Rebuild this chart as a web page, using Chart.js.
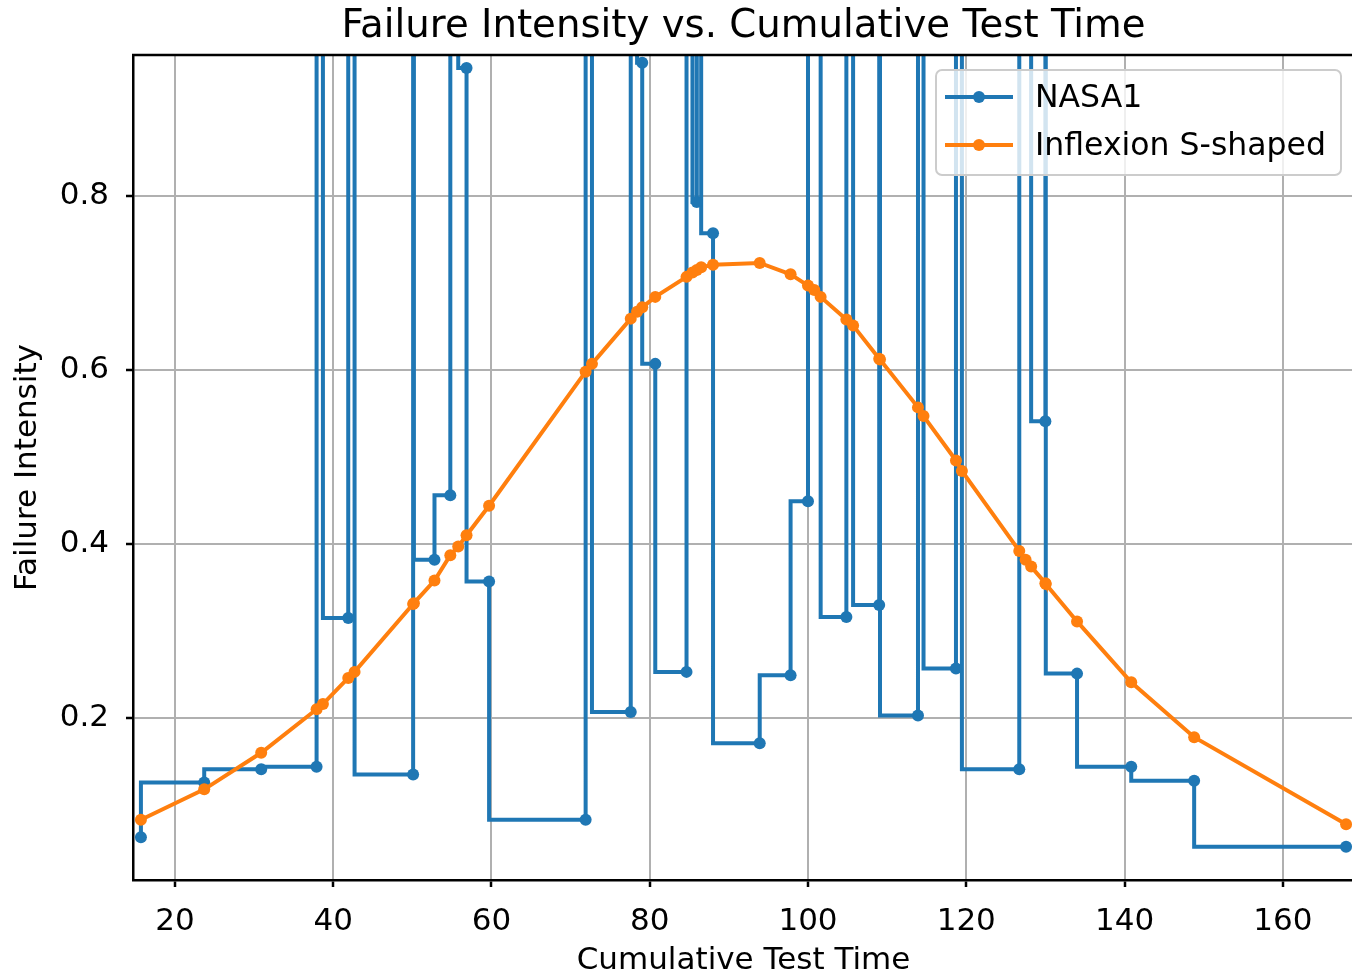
<!DOCTYPE html>
<html>
<head>
<meta charset="utf-8">
<script src="https://cdn.jsdelivr.net/npm/chart.js@4.4.0/dist/chart.umd.min.js"></script>
<style>
  html, body { margin: 0; padding: 0; background: #fff; overflow: hidden; }
  #wrap { width: 1360px; height: 976px; }
</style>
</head>
<body>
<div id="wrap"><canvas id="canvas" width="1360" height="976"></canvas></div>
<script>
// cumulative test time of each failure (x)
var testTime = [15.7, 23.7, 30.9, 37.9, 38.7, 41.9, 42.7, 50.1, 50.2, 52.8,
                54.8, 55.8, 56.85, 59.7, 71.9, 72.7, 77.6, 78.4, 79.05, 80.7,
                84.65, 85.4, 85.95, 86.5, 88.0, 93.9, 97.8, 100.0, 100.8, 101.6,
                104.85, 105.7, 109.0, 109.1, 113.9, 114.6, 118.7, 119.45, 126.7, 127.5,
                128.2, 130.0, 130.05, 134.0, 140.85, 148.8, 168.0];

// observed failure intensity (values above ~0.96 run off the top of the plot)
var nasa1 = [0.063, 0.126, 0.141, 0.144, 1.25, 0.315, 1.25, 0.135, 5.0, 0.382,
             0.456, 1.0, 0.947, 0.357, 0.083, 1.25, 0.207, 1.25, 0.953, 0.607,
             0.253, 1.4, 0.793, 1.5, 0.757, 0.171, 0.249, 0.449, 1.25, 1.25,
             0.316, 1.2, 0.330, 5.0, 0.203, 1.4, 0.257, 1.2, 0.141, 1.25,
             1.4, 0.541, 5.0, 0.251, 0.144, 0.128, 0.052];

// fitted model
var inflexion = [0.083, 0.118, 0.160, 0.210, 0.216, 0.246, 0.253, 0.331, 0.332, 0.358,
                 0.387, 0.397, 0.410, 0.444, 0.598, 0.607, 0.659, 0.667, 0.672, 0.684,
                 0.707, 0.712, 0.715, 0.718, 0.721, 0.723, 0.710, 0.697, 0.692, 0.684,
                 0.658, 0.651, 0.613, 0.612, 0.557, 0.547, 0.496, 0.484, 0.392, 0.382,
                 0.374, 0.355, 0.354, 0.311, 0.241, 0.178, 0.078];

var xTicks = [20, 40, 60, 80, 100, 120, 140, 160];
var yTicks = [0.2, 0.4, 0.6, 0.8];

var seriesNames = ['NASA1', 'Inflexion S-shaped'];
var seriesColors = ['#1f77b4', '#ff7f0e'];
var chartTitle = 'Failure Intensity vs. Cumulative Test Time';

var FONT = '"DejaVu Sans", "Liberation Sans", sans-serif';

function toPoints(ys) {
  return testTime.map(function (t, i) { return { x: t, y: ys[i] }; });
}

// title centred over the axes, top frame line, legend box inside the plot
var frameAndLegend = {
  id: 'frameAndLegend',
  afterDraw: function (chart) {
    var ctx = chart.ctx;
    var a = chart.chartArea;
    ctx.save();

    ctx.fillStyle = '#000';
    ctx.font = '38.7px ' + FONT;
    ctx.textAlign = 'center';
    ctx.textBaseline = 'alphabetic';
    ctx.fillText(chartTitle, (a.left + a.right) / 2, 37);

    ctx.strokeStyle = '#000';
    ctx.lineWidth = 2.5;
    ctx.beginPath();
    ctx.moveTo(a.left - 1, a.top);
    ctx.lineTo(a.right, a.top);
    ctx.stroke();

    var bw = 405, bh = 105;
    var bx = a.right - 13 - bw, by = a.top + 15;
    ctx.beginPath();
    ctx.roundRect(bx, by, bw, bh, 6);
    ctx.fillStyle = 'rgba(255,255,255,0.8)';
    ctx.fill();
    ctx.strokeStyle = '#cccccc';
    ctx.lineWidth = 2;
    ctx.stroke();

    ctx.font = '31.5px ' + FONT;
    ctx.textBaseline = 'middle';
    ctx.textAlign = 'left';
    chart.data.datasets.forEach(function (ds, i) {
      var ly = by + 27 + i * 48;
      ctx.strokeStyle = ds.borderColor;
      ctx.lineWidth = 4;
      ctx.beginPath();
      ctx.moveTo(bx + 9, ly);
      ctx.lineTo(bx + 77, ly);
      ctx.stroke();
      ctx.fillStyle = ds.borderColor;
      ctx.beginPath();
      ctx.arc(bx + 43, ly, 6, 0, Math.PI * 2);
      ctx.fill();
      ctx.fillStyle = '#000';
      ctx.fillText(ds.label, bx + 99, ly + 2);
    });
    ctx.restore();
  }
};

var config = {
  type: 'line',
  data: {
    datasets: [{
      label: seriesNames[0],
      data: toPoints(nasa1),
      borderColor: seriesColors[0],
      backgroundColor: seriesColors[0],
      borderWidth: 4,
      stepped: 'after',
      pointRadius: 6,
      pointBorderWidth: 0,
      pointHoverRadius: 6,
      clip: 0,
      order: 2
    }, {
      label: seriesNames[1],
      data: toPoints(inflexion),
      borderColor: seriesColors[1],
      backgroundColor: seriesColors[1],
      borderWidth: 4,
      tension: 0,
      pointRadius: 6,
      pointBorderWidth: 0,
      pointHoverRadius: 6,
      clip: 0,
      order: 1
    }]
  },
  options: {
    responsive: false,
    animation: false,
    devicePixelRatio: 1,
    layout: { padding: { left: 0, right: 5, top: 55, bottom: 0 } },
    plugins: {
      legend: { display: false },
      tooltip: { enabled: false },
      title: { display: false }
    },
    scales: {
      x: {
        type: 'linear',
        min: 14.7,
        max: 169.0,
        afterBuildTicks: function (scale) {
          scale.ticks = xTicks.map(function (v) { return { value: v }; });
        },
        afterFit: function (scale) { scale.height = 96; },
        grid: { color: '#b0b0b0', lineWidth: 2, tickColor: '#000', tickWidth: 2.5, tickLength: 7 },
        border: { color: '#000', width: 2.5 },
        ticks: {
          color: '#000',
          font: { family: FONT, size: 31 },
          padding: 16,
          maxRotation: 0,
          autoSkip: false,
          callback: function (v) { return String(v); }
        },
        title: {
          display: true,
          text: 'Cumulative Test Time',
          color: '#000',
          font: { family: FONT, size: 31, lineHeight: 1.0 },
          padding: { top: 0, bottom: 0 }
        }
      },
      y: {
        type: 'linear',
        min: 0.0138,
        max: 0.962,
        afterBuildTicks: function (scale) {
          scale.ticks = yTicks.map(function (v) { return { value: v }; });
        },
        afterFit: function (scale) { scale.width = 133; },
        grid: { color: '#b0b0b0', lineWidth: 2, tickColor: '#000', tickWidth: 2.5, tickLength: 7 },
        border: { color: '#000', width: 2.5 },
        ticks: {
          color: '#000',
          font: { family: FONT, size: 31 },
          padding: 17,
          autoSkip: false,
          callback: function (v) { return v.toFixed(1); }
        },
        title: {
          display: true,
          text: 'Failure Intensity',
          color: '#000',
          font: { family: FONT, size: 31, lineHeight: 1.0 },
          padding: { top: 12, bottom: 0 }
        }
      }
    }
  },
  plugins: [frameAndLegend]
};

var ctx = document.getElementById('canvas').getContext('2d');
window.myLine = new Chart(ctx, config);
</script>
</body>
</html>
